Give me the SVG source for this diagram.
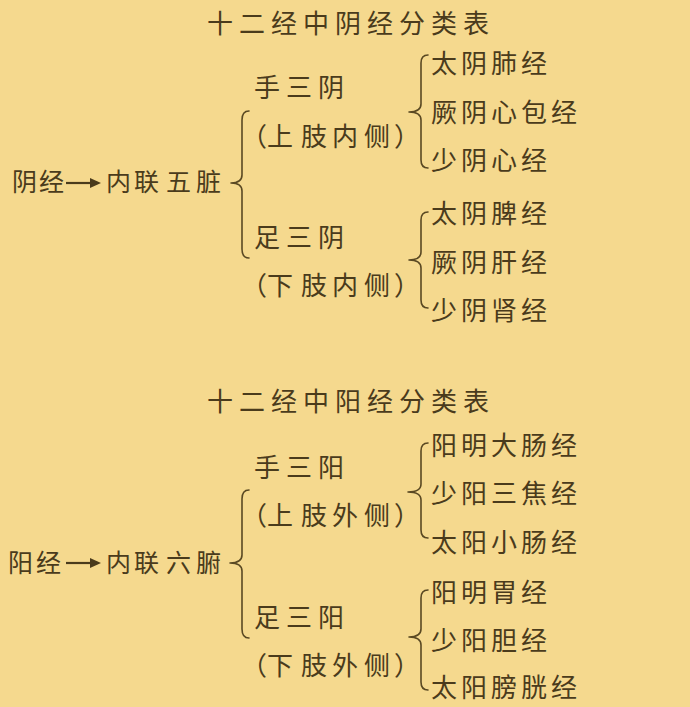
<svg xmlns="http://www.w3.org/2000/svg" width="690" height="707" viewBox="0 0 690 707">
<style>
text{font-family:"Noto Sans CJK SC","Noto Sans CJK TC",sans-serif;fill:#4a3b1c;font-size:26px;}
.t{font-size:26px;}
.m{font-size:25px;}
.b{fill:none;stroke:#5a4923;stroke-width:1.6;stroke-linecap:round;stroke-linejoin:round;}
.ar{stroke:#4a3b1c;stroke-width:2.2;}
.ah{fill:#4a3b1c;}
</style>
<rect x="0" y="0" width="690" height="707" fill="#f5d98e"/>

<g id="title-yin"><text class="t" x="207 239 271 303 335 367 399 431 463" y="33">十二经中阴经分类表</text></g>
<g id="yin-root">
<text class="m" x="12 39" y="191">阴经</text>
<line class="ar" x1="66" y1="183" x2="92" y2="183"/>
<polygon class="ah" points="101,183 90,178 90,188"/>
<text class="m" x="106 134 166 196" y="191">内联五脏</text>
</g>
<g id="yin-hand"><text x="254 286 318" y="97">手三阴</text><text x="241 267 301 332 364 394" y="146">（上肢内侧）</text></g>
<g id="yin-foot"><text x="254 286 318" y="247">足三阴</text><text x="241 267 301 332 364 394" y="295">（下肢内侧）</text></g>
<g id="yin-h1"><text x="431 461 491 521" y="73">太阴肺经</text></g>
<g id="yin-h2"><text x="431 461 491 521 551" y="122">厥阴心包经</text></g>
<g id="yin-h3"><text x="431 461 491 521" y="170">少阴心经</text></g>
<g id="yin-f1"><text x="431 461 491 521" y="223">太阴脾经</text></g>
<g id="yin-f2"><text x="431 461 491 521" y="272">厥阴肝经</text></g>
<g id="yin-f3"><text x="431 461 491 521" y="320">少阴肾经</text></g>

<g id="title-yang"><text class="t" x="207 239 271 303 335 367 399 431 463" y="411">十二经中阳经分类表</text></g>
<g id="yang-root">
<text class="m" x="8 36" y="572">阳经</text>
<line class="ar" x1="66" y1="563" x2="92" y2="563"/>
<polygon class="ah" points="101,563 90,558 90,568"/>
<text class="m" x="106 134 166 196" y="572">内联六腑</text>
</g>
<g id="yang-hand"><text x="254 286 318" y="477">手三阳</text><text x="241 267 301 332 364 394" y="525">（上肢外侧）</text></g>
<g id="yang-foot"><text x="254 286 318" y="627">足三阳</text><text x="241 267 301 332 364 394" y="675">（下肢外侧）</text></g>
<g id="yang-h1"><text x="431 461 491 521 551" y="455">阳明大肠经</text></g>
<g id="yang-h2"><text x="431 461 491 521 551" y="503">少阳三焦经</text></g>
<g id="yang-h3"><text x="431 461 491 521 551" y="552">太阳小肠经</text></g>
<g id="yang-f1"><text x="431 461 491 521" y="602">阳明胃经</text></g>
<g id="yang-f2"><text x="431 461 491 521" y="650">少阳胆经</text></g>
<g id="yang-f3"><text x="431 461 491 521 551" y="697">太阳膀胱经</text></g>

<g id="connectors">
<path class="b" d="M249,111 Q242,111 242,120 L242,175 Q242,183 231,183 Q242,183 242,191 L242,249 Q242,258 249,258"/>
<path class="b" d="M428,55 Q421,55 421,63 L421,104 Q421,112 409,112 Q421,112 421,120 L421,160 Q421,168 428,168"/>
<path class="b" d="M428,212 Q421,212 421,220 L421,252 Q421,260 409,260 Q421,260 421,268 L421,300 Q421,308 428,308"/>
<path class="b" d="M249,490 Q242,490 242,499 L242,555 Q242,563 230,563 Q242,563 242,571 L242,629 Q242,638 249,638"/>
<path class="b" d="M428,443 Q421,443 421,451 L421,484 Q421,492 408,492 Q421,492 421,500 L421,530 Q421,538 428,538"/>
<path class="b" d="M428,590 Q421,590 421,598 L421,629 Q421,637 409,637 Q421,637 421,645 L421,682 Q421,690 428,690"/>
</g>
</svg>
